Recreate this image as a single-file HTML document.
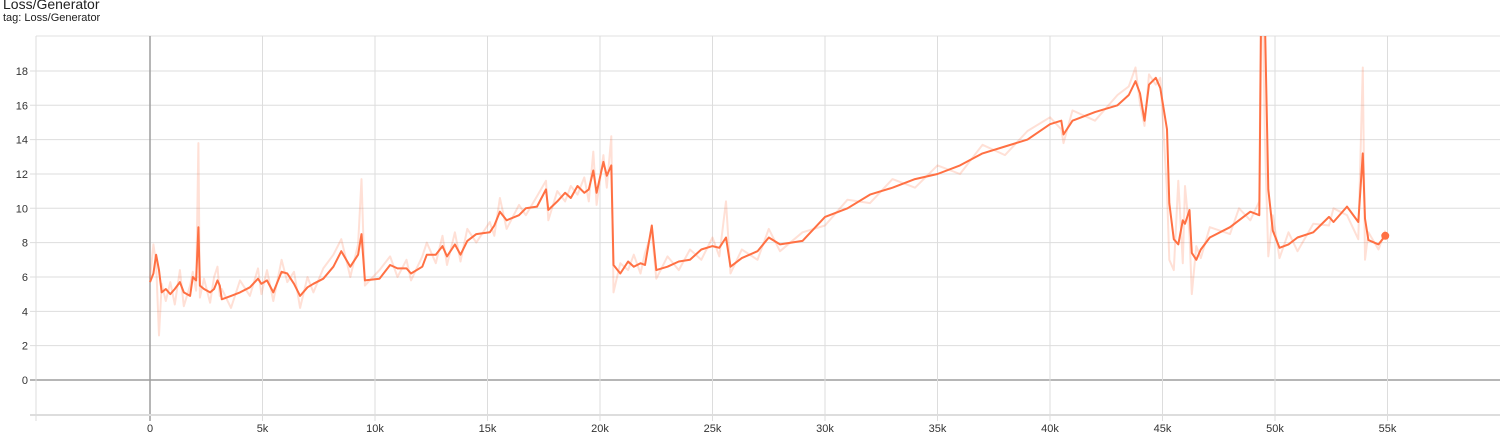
<!DOCTYPE html>
<html><head><meta charset="utf-8"><style>
body{margin:0;background:#fff;font-family:"Liberation Sans",sans-serif;}
#wrap{position:relative;width:1506px;height:436px;overflow:hidden}
.t1{position:absolute;left:3px;top:-4px;font-size:14px;color:#212121}
.t2{position:absolute;left:3px;top:12px;font-size:11px;color:#212121}
</style></head><body>
<div id="wrap">
<div class="t1">Loss/Generator</div>
<div class="t2">tag: Loss/Generator</div>
<svg id="svg" width="1506" height="436" style="position:absolute;left:0;top:0"></svg>
</div>
<script>
const steps=[0,0.15,0.27,0.4,0.52,0.7,0.9,1.1,1.33,1.5,1.78,1.9,2.05,2.15,2.22,2.4,2.67,2.85,3.0,3.1,3.19,3.6,4.0,4.44,4.8,4.95,5.2,5.48,5.85,6.1,6.4,6.67,7.0,7.26,7.7,8.15,8.5,8.9,9.25,9.4,9.55,10.2,10.67,11.0,11.4,11.6,12.1,12.3,12.7,13.0,13.2,13.55,13.8,14.1,14.5,15.1,15.3,15.55,15.85,16.4,16.7,17.2,17.6,17.7,18.1,18.45,18.7,19.0,19.3,19.5,19.7,19.85,20.15,20.3,20.5,20.6,20.9,21.25,21.5,21.8,22.0,22.3,22.5,23.0,23.5,24.0,24.5,25.0,25.3,25.6,25.8,26.3,27.0,27.5,28.0,29.0,30.0,31.0,32.0,33.0,34.0,35.0,36.0,37.0,38.0,39.0,40.0,40.5,40.6,41.0,42.0,43.0,43.5,43.8,44.0,44.2,44.4,44.7,44.9,45.2,45.3,45.5,45.7,45.9,46.0,46.2,46.3,46.5,46.7,47.1,48.0,48.4,48.9,49.3,49.4,49.55,49.7,49.9,50.2,50.6,51.0,51.7,52.4,52.6,53.2,53.7,53.9,54.0,54.15,54.6,54.9];
const smoothed=[5.7,6.2,7.3,6.4,5.1,5.3,5.0,5.3,5.7,5.1,4.9,6.0,5.8,8.9,5.5,5.3,5.1,5.3,5.8,5.5,4.7,4.9,5.1,5.4,5.9,5.6,5.8,5.1,6.3,6.2,5.6,4.9,5.4,5.6,5.9,6.6,7.5,6.6,7.3,8.5,5.8,5.9,6.7,6.5,6.5,6.2,6.6,7.3,7.3,7.8,7.2,7.9,7.3,8.1,8.5,8.6,9.0,9.8,9.3,9.6,10.0,10.1,11.1,9.9,10.4,10.9,10.6,11.3,10.9,11.1,12.2,10.9,12.7,11.9,12.5,6.7,6.2,6.9,6.6,6.8,6.7,9.0,6.4,6.6,6.9,7.0,7.6,7.8,7.7,8.3,6.6,7.1,7.5,8.3,7.9,8.1,9.5,10.0,10.8,11.2,11.7,12.0,12.5,13.2,13.6,14.0,14.9,15.1,14.3,15.1,15.6,16.0,16.6,17.4,16.7,15.1,17.2,17.6,17.0,14.6,10.3,8.2,7.9,9.3,9.1,9.9,7.4,7.0,7.6,8.3,8.9,9.3,9.8,9.6,24,21,11.1,8.7,7.7,7.9,8.3,8.6,9.5,9.2,10.1,9.2,13.2,9.4,8.15,7.9,8.4];
const raw=[5.9,7.9,6.8,2.6,5.6,4.6,5.7,4.4,6.4,4.3,5.5,6.3,5.2,13.8,4.8,5.9,4.5,6.0,6.6,4.9,5.3,4.2,5.8,4.9,6.5,5.0,6.4,4.6,7.0,5.7,6.3,4.2,6.0,5.1,6.5,7.3,8.2,6.0,7.9,11.7,5.5,6.4,7.2,6.0,7.0,5.8,7.2,8.0,6.8,8.4,6.7,8.6,6.9,8.8,8.0,9.2,8.4,10.6,8.8,10.2,9.6,10.7,11.6,9.3,11.0,10.4,11.3,10.8,11.8,10.4,13.3,10.2,13.1,11.2,14.2,5.1,6.8,6.4,7.3,6.2,7.4,8.6,5.9,7.2,6.4,7.6,7.0,8.3,7.2,10.4,6.2,7.6,7.0,8.8,7.5,8.6,9.0,10.5,10.3,11.7,11.2,12.5,12.0,13.7,13.1,14.5,15.3,14.6,13.8,15.7,15.1,16.6,17.1,18.2,16.1,14.8,17.8,17.2,17.6,11.0,7.0,6.4,11.6,6.8,11.3,8.5,5.0,7.8,7.1,8.9,8.5,10.0,9.3,10.4,26,14,7.2,9.6,7.1,8.6,7.5,9.1,9.0,10.0,9.6,8.2,18.2,7.0,8.6,7.6,8.7];
const yTicks=[0,2,4,6,8,10,12,14,16,18];
const xTicks=[0,5,10,15,20,25,30,35,40,45,50,55];
const xTickLabels=["0","5k","10k","15k","20k","25k","30k","35k","40k","45k","50k","55k"];

const NS="http://www.w3.org/2000/svg";
const svg=document.getElementById('svg');
const L=36,R=1500,T=36,B=415;
const X=k=>150+22.5*k;
const Y=v=>380-17.17*v;
function mk(tag,attrs,parent){const e=document.createElementNS(NS,tag);for(const a in attrs)e.setAttribute(a,attrs[a]);(parent||svg).appendChild(e);return e;}
const defs=mk('defs',{});
const cp=mk('clipPath',{id:'clip'},defs);
mk('rect',{x:L,y:T,width:R-L,height:B-T},cp);
const grid=mk('g',{});


mk('line',{x1:L,x2:R,y1:T,y2:T,stroke:'#e0e0e0','stroke-width':1},grid);
yTicks.forEach(v=>{
  const y=Y(v);
  const ln=mk('line',{x1:L-6,x2:R,y1:y,y2:y,stroke:v===0?'#9e9e9e':'#ddd','stroke-width':v===0?1.5:1},grid);
  
  
  const t=mk('text',{x:L-8,y:y+4,'text-anchor':'end','font-size':11,fill:'#333','font-family':'Liberation Sans, sans-serif'});
  t.textContent=String(v);
  
  
});
mk('line',{x1:L,x2:L,y1:T,y2:B+6,stroke:'#ddd','stroke-width':1},grid);
xTicks.forEach((k,i)=>{
  const x=X(k);
  const ln=mk('line',{x1:x,x2:x,y1:T,y2:B+6,stroke:k===0?'#9e9e9e':'#ddd','stroke-width':k===0?1.5:1},grid);
  
  
  const t=mk('text',{x:x,y:432,'text-anchor':'middle','font-size':11,fill:'#333','font-family':'Liberation Sans, sans-serif'});
  t.textContent=xTickLabels[i];
  
  
});
mk('line',{x1:L-6,x2:R,y1:B,y2:B,stroke:'#ddd','stroke-width':2},grid);
const g=mk('g',{'clip-path':'url(#clip)'});


const pts=a=>steps.map((k,i)=>X(k).toFixed(1)+','+Y(a[i]).toFixed(1)).join(' ');
const rl=mk('polyline',{points:pts(raw),fill:'none',stroke:'rgba(255,112,67,0.22)','stroke-width':2,'stroke-linejoin':'round'},g);


const sl=mk('polyline',{points:pts(smoothed),fill:'none',stroke:'#ff7043','stroke-width':2,'stroke-linejoin':'round'},g);


const n=steps.length-1;
const dot=mk('circle',{cx:X(steps[n]),cy:Y(smoothed[n]),r:4,fill:'#ff7043'},g);


</script>
</body></html>
